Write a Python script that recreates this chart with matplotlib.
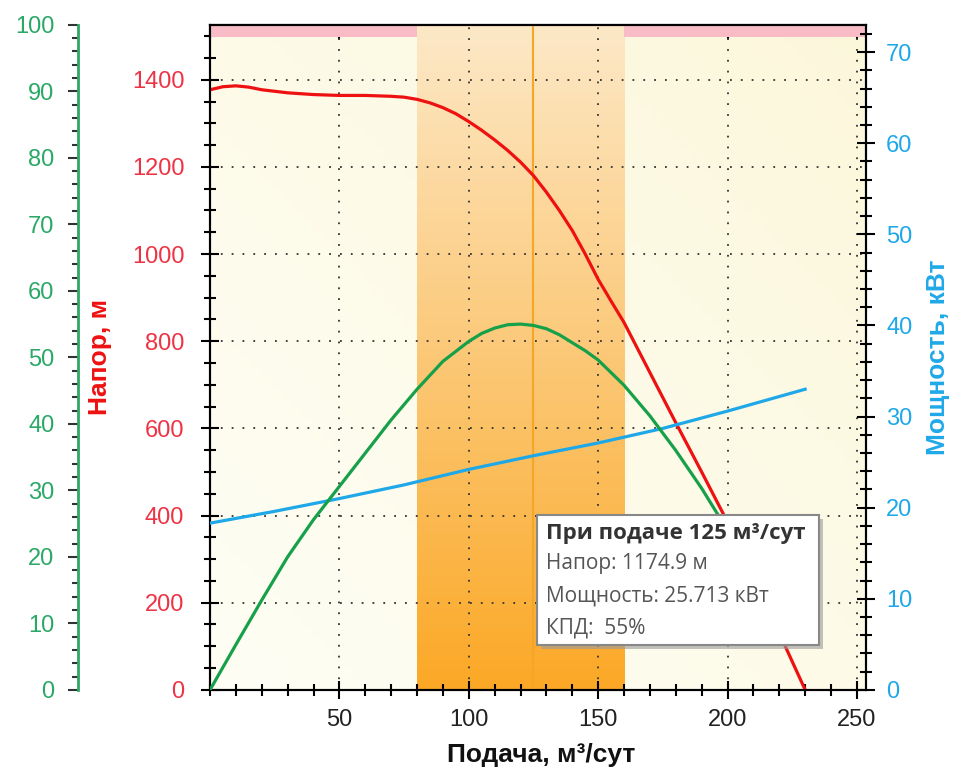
import numpy as np
import matplotlib.pyplot as plt
from matplotlib.patches import Rectangle
from matplotlib.ticker import MultipleLocator

# data
q_head = [0, 5, 10, 15, 20, 30, 40, 50, 60, 70, 75, 80, 85, 90, 95, 100, 105, 110, 115, 120, 125,
          130, 135, 140, 145, 150, 155, 160, 170, 180, 190, 200, 210, 220, 230]
head = [1377, 1384, 1386, 1383, 1377, 1370, 1366, 1364, 1364, 1362, 1360, 1355, 1347, 1336, 1322,
        1304, 1284, 1262, 1238, 1211, 1180, 1142, 1100, 1054, 1000, 942, 892, 843, 728, 613, 500,
        385, 258, 130, 0]

q_eff = [0, 10, 20, 30, 40, 50, 60, 70, 80, 90, 100, 105, 110, 115, 120, 125, 130, 135, 140, 145,
         150, 160, 170, 180, 190, 200, 205]
eff = [0, 6.8, 13.5, 20, 25.6, 30.6, 35.6, 40.6, 45.2, 49.4, 52.4, 53.6, 54.4, 54.9, 55, 54.8,
       54.3, 53.4, 52.2, 51, 49.6, 45.8, 41.2, 36, 30.3, 24, 20.5]

q_pow = [0, 25, 50, 75, 100, 125, 150, 175, 200, 230]
power = [18.3, 19.6, 21.0, 22.5, 24.2, 25.7, 27.1, 28.7, 30.6, 33.0]

work_range = [80, 160]
q_point = 125
tip_title = 'При подаче 125 м³/сут'
tip_lines = ['Напор: 1174.9 м', 'Мощность: 25.713 кВт', 'КПД:  55%']

plt.rcParams['font.family'] = ['Liberation Sans', 'DejaVu Sans']

fig = plt.figure(figsize=(9.59, 7.76), dpi=100)
ax = fig.add_axes([0.219, 0.111, 0.684, 0.857])
XMAX, YMAX = 253.5, 1526
ax.set_xlim(0, XMAX)
ax.set_ylim(0, YMAX)

# background gradient
bg = np.linspace(0, 1, 64)
bgx, bgy = np.meshgrid(bg, bg)
bgv = (bgx + (1 - bgy)) / 2
c1 = np.array([0.997, 0.995, 0.96])
c2 = np.array([0.988, 0.97, 0.86])
img = c1 + (c2 - c1) * bgv[..., None]
ax.imshow(img, extent=[0, XMAX, 0, YMAX], aspect='auto', origin='upper', zorder=0)

# working range band (light at top, orange at bottom)
t = np.linspace(0, 1, 128)[:, None]
top = np.array([0.99, 0.91, 0.78])
bot = np.array([0.985, 0.66, 0.15])
band = top + (bot - top) * t
band = np.repeat(band[:, None, :], 2, axis=1)
ax.imshow(band, extent=[work_range[0], work_range[1], 0, YMAX], aspect='auto',
          origin='upper', zorder=1)

# pink strip along the top outside the working range
tr = ax.get_xaxis_transform()
ax.add_patch(Rectangle((0, 0.982), work_range[0], 0.018, transform=tr,
                       color='#f9bcc6', zorder=2, lw=0))
ax.add_patch(Rectangle((work_range[1], 0.982), XMAX - work_range[1], 0.018, transform=tr,
                       color='#f9bcc6', zorder=2, lw=0))

ax.axvline(q_point, color='#f5a623', lw=1.5, zorder=3)

# grid
ax.set_xticks([50, 100, 150, 200, 250])
ax.set_yticks(np.arange(0, 1401, 200))
ax.grid(True, color='#333333', linestyle=(0, (1, 5)), lw=1.3)
for gl in ax.get_xgridlines() + ax.get_ygridlines():
    gl.set_zorder(2)

ax.plot(q_head, head, color='#ee1111', lw=2.3, zorder=5)

ax.xaxis.set_minor_locator(MultipleLocator(10))
ax.yaxis.set_minor_locator(MultipleLocator(50))
ax.tick_params(axis='both', which='major', direction='inout', length=13, width=1.5, labelsize=17)
ax.tick_params(axis='both', which='minor', direction='inout', length=8, width=1.5)
ax.tick_params(axis='y', labelcolor='#ee3344', pad=12)
ax.tick_params(axis='x', labelcolor='#222222', pad=7)
for s in ax.spines.values():
    s.set_linewidth(1.5)
ax.set_ylabel('Напор, м', color='#ee1111', fontsize=19, fontweight='bold', va='center')
ax.yaxis.set_label_coords(-0.168, 0.5)
ax.set_xlabel('Подача, м³/сут', color='#111111', fontsize=19, fontweight='bold', va='center')
ax.xaxis.set_label_coords(0.505, -0.098)

# top ticks pointing inward
axt = ax.secondary_xaxis('top')
axt.xaxis.set_major_locator(MultipleLocator(50))
axt.xaxis.set_minor_locator(MultipleLocator(10))
axt.tick_params(which='major', direction='in', length=10, width=1.5, labeltop=False)
axt.tick_params(which='minor', direction='in', length=6, width=1.5)
axt.spines['top'].set_linewidth(1.5)

# power axis (right)
axp = ax.twinx()
axp.set_ylim(0, 73)
axp.plot(q_pow, power, color='#1fa8e8', lw=2.3, zorder=5)
axp.yaxis.set_major_locator(MultipleLocator(10))
axp.yaxis.set_minor_locator(MultipleLocator(2))
axp.tick_params(axis='y', which='major', direction='inout', length=13, width=1.5,
                labelsize=17, labelcolor='#1fa8e8', pad=8)
axp.tick_params(axis='y', which='minor', direction='inout', length=8, width=1.5)
axp.set_ylabel('Мощность, кВт', color='#1fa8e8', fontsize=19, fontweight='bold', va='center')
axp.yaxis.set_label_coords(1.11, 0.5)
for s in axp.spines.values():
    s.set_linewidth(1.5)

# efficiency axis (far left)
axe = ax.twinx()
axe.set_ylim(0, 100)
axe.plot(q_eff, eff, color='#17a04a', lw=2.3, zorder=5)
axe.spines['left'].set_visible(True)
axe.spines['left'].set_position(('outward', 95))
axe.spines['left'].set_color('#2aa866')
axe.spines['left'].set_linewidth(2)
axe.spines['right'].set_visible(False)
axe.spines['top'].set_visible(False)
axe.spines['bottom'].set_visible(False)
axe.yaxis.set_ticks_position('left')
axe.yaxis.set_label_position('left')
axe.yaxis.set_major_locator(MultipleLocator(10))
axe.yaxis.set_minor_locator(MultipleLocator(2))
axe.tick_params(axis='y', which='major', direction='out', length=7, width=1.5,
                color='#333333', labelsize=17, labelcolor='#2aa866', pad=10)
axe.tick_params(axis='y', which='minor', direction='out', length=4.3, width=1.5, color='#333333')

# tooltip
x0, y0, w, h = 537 / 959, 1 - 645 / 776, 282 / 959, 130 / 776
fig.patches.append(Rectangle((x0 + 0.004, y0 - 0.005), w, h, transform=fig.transFigure,
                             facecolor='#9a9a9a', alpha=0.6, lw=0, zorder=10))
fig.patches.append(Rectangle((x0, y0), w, h, transform=fig.transFigure,
                             facecolor='white', edgecolor='#888888', lw=1.5, zorder=11))
fig.text(x0 + 0.009, 1 - 533 / 776, tip_title, fontsize=16, fontweight='bold',
         color='#333333', va='center', family=['Open Sans', 'DejaVu Sans'], zorder=12)
for i, line in enumerate(tip_lines):
    fig.text(x0 + 0.009, 1 - (564 + i * 32) / 776, line, fontsize=15, color='#555555',
             va='center', family=['Open Sans', 'DejaVu Sans'], zorder=12)

fig.savefig('out.png', dpi=100)
